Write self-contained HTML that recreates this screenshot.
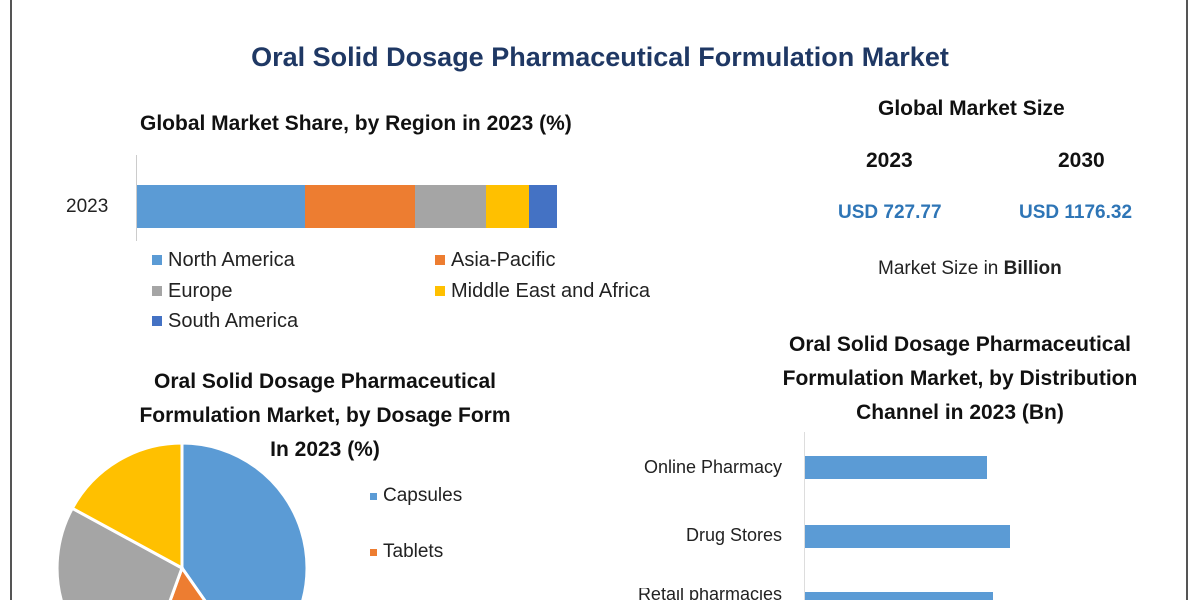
<!DOCTYPE html>
<html><head><meta charset="utf-8"><style>
html,body{margin:0;width:1200px;height:600px;overflow:hidden}
body{background:#fff;font-family:"Liberation Sans",sans-serif}
#w{position:relative;width:1200px;height:600px;overflow:hidden}
.t{position:absolute;white-space:nowrap}
.b{font-weight:bold}
.sq{display:inline-block;width:10px;height:10px;margin-right:6px;vertical-align:1px}
</style></head><body><div id="w">
<div style="position:absolute;left:10px;top:0;width:2px;height:600px;background:#555"></div>
<div style="position:absolute;left:1186px;top:0;width:2px;height:600px;background:#555"></div>
<div class="t b" style="left:0;width:1200px;text-align:center;top:42px;font-size:27px;color:#1f3864">Oral Solid Dosage Pharmaceutical Formulation Market</div>
<div class="t b" style="left:140px;top:112px;font-size:21px;color:#111">Global Market Share, by Region in 2023 (%)</div>
<div class="t" style="left:66px;top:196px;font-size:19px;color:#222">2023</div>
<div style="position:absolute;left:136px;top:155px;width:1px;height:86px;background:#ccc"></div>
<div style="position:absolute;top:185px;height:43px;left:137px;width:168px;background:#5b9bd5"></div>
<div style="position:absolute;top:185px;height:43px;left:305px;width:110px;background:#ed7d31"></div>
<div style="position:absolute;top:185px;height:43px;left:415px;width:71px;background:#a5a5a5"></div>
<div style="position:absolute;top:185px;height:43px;left:486px;width:43px;background:#ffc000"></div>
<div style="position:absolute;top:185px;height:43px;left:529px;width:28px;background:#4472c4"></div>
<div class="t" style="left:152px;top:249px;font-size:20px;color:#222"><span class="sq" style="background:#5b9bd5"></span>North America</div>
<div class="t" style="left:435px;top:249px;font-size:20px;color:#222"><span class="sq" style="background:#ed7d31"></span>Asia-Pacific</div>
<div class="t" style="left:152px;top:280px;font-size:20px;color:#222"><span class="sq" style="background:#a5a5a5"></span>Europe</div>
<div class="t" style="left:435px;top:280px;font-size:20px;color:#222"><span class="sq" style="background:#ffc000"></span>Middle East and Africa</div>
<div class="t" style="left:152px;top:310px;font-size:20px;color:#222"><span class="sq" style="background:#4472c4"></span>South America</div>
<div class="t b" style="left:878px;top:97px;font-size:21px;color:#111">Global Market Size</div>
<div class="t b" style="left:866px;top:149px;font-size:21px;color:#111">2023</div>
<div class="t b" style="left:1058px;top:149px;font-size:21px;color:#111">2030</div>
<div class="t b" style="left:838px;top:202px;font-size:19px;color:#2e75b6">USD 727.77</div>
<div class="t b" style="left:1019px;top:202px;font-size:19px;color:#2e75b6">USD 1176.32</div>
<div class="t" style="left:878px;top:258px;font-size:19px;color:#222">Market Size in <b>Billion</b></div>
<div class="t b" style="left:740px;top:328px;width:440px;text-align:center;font-size:21px;line-height:34px;color:#111">Oral Solid Dosage Pharmaceutical<br>Formulation Market, by Distribution<br>Channel in 2023 (Bn)</div>
<div class="t b" style="left:100px;top:365px;width:450px;text-align:center;font-size:21px;line-height:34px;color:#111">Oral Solid Dosage Pharmaceutical<br>Formulation Market, by Dosage Form<br>In 2023 (%)</div>
<svg style="position:absolute;left:0;top:0" width="1200" height="600">
<g stroke="#fff" stroke-width="3">
<path d="M182,568 L182,443 A125,125 0 0 1 253.7,670.4 Z" fill="#5b9bd5"/>
<path d="M182,568 L253.7,670.4 A125,125 0 0 1 139.2,685.5 Z" fill="#ed7d31"/>
<path d="M182,568 L139.2,685.5 A125,125 0 0 1 72.3,508.3 Z" fill="#a5a5a5"/>
<path d="M182,568 L72.3,508.3 A125,125 0 0 1 182,443 Z" fill="#ffc000"/>
</g>
<rect x="804" y="432" width="1" height="168" fill="#ddd"/>
<rect x="805" y="456" width="182" height="23" fill="#5b9bd5"/>
<rect x="805" y="525" width="205" height="23" fill="#5b9bd5"/>
<rect x="805" y="592" width="188" height="8" fill="#5b9bd5"/>
</svg>
<div class="t" style="left:370px;top:485px;font-size:19px;color:#222"><span class="sq" style="background:#5b9bd5;width:7px;height:7px"></span>Capsules</div>
<div class="t" style="left:370px;top:541px;font-size:19px;color:#222"><span class="sq" style="background:#ed7d31;width:7px;height:7px"></span>Tablets</div>
<div class="t" style="left:600px;top:457px;width:182px;text-align:right;font-size:18px;color:#222">Online Pharmacy</div>
<div class="t" style="left:600px;top:525px;width:182px;text-align:right;font-size:18px;color:#222">Drug Stores</div>
<div class="t" style="left:600px;top:588px;width:182px;text-align:right;font-size:18px;line-height:12px;height:12px;overflow:hidden;color:#222">Retail pharmacies</div>
</div></body></html>
